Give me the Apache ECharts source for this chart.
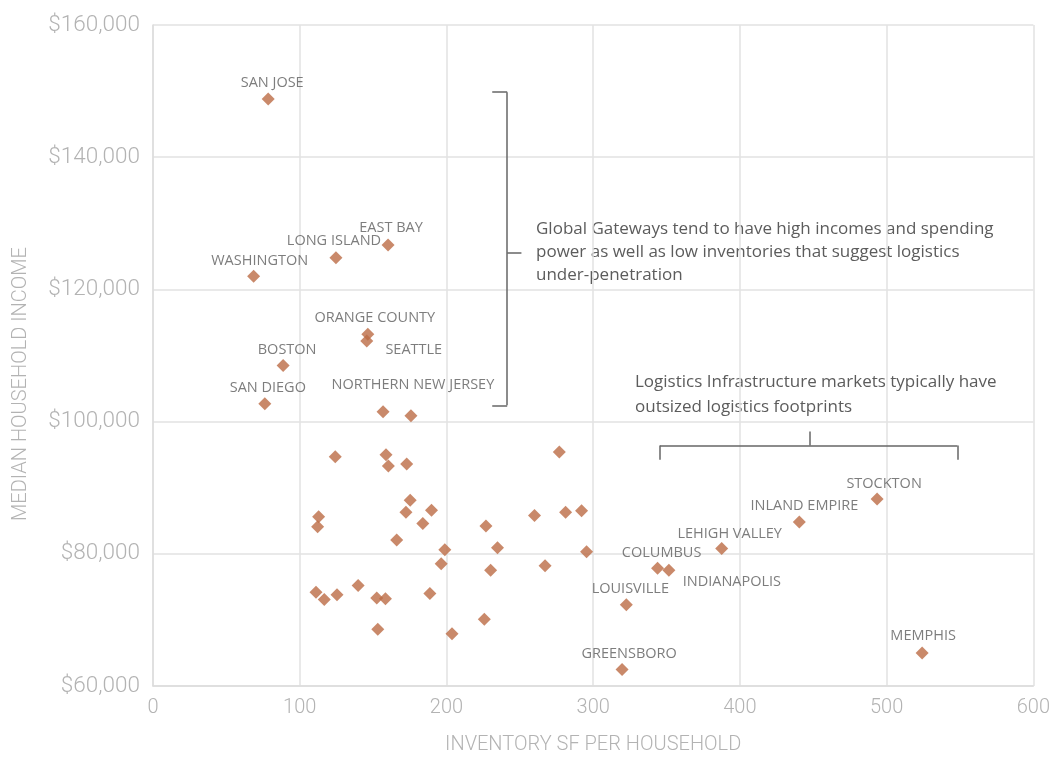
<!DOCTYPE html>
<html>
<head>
<meta charset="utf-8">
<script src="https://cdn.jsdelivr.net/npm/echarts@6/dist/echarts.min.js"></script>
<style>
  html, body { margin: 0; padding: 0; background: #ffffff; }
  #chart { width: 1053px; height: 760px; }
</style>
</head>
<body>
<div id="chart"></div>
<script>
// Named markets: inventory SF per household vs. median household income
const marketNames = [
  'SAN JOSE', 'WASHINGTON', 'LONG ISLAND', 'EAST BAY', 'ORANGE COUNTY', 'SEATTLE',
  'BOSTON', 'SAN DIEGO', 'NORTHERN NEW JERSEY', 'COLUMBUS', 'INDIANAPOLIS',
  'LOUISVILLE', 'GREENSBORO', 'LEHIGH VALLEY', 'INLAND EMPIRE', 'STOCKTON', 'MEMPHIS'
];
const marketInventory = [
  78.5, 68.6, 124.7, 160.2, 146.4, 145.7,
  88.7, 76.2, 175.8, 343.9, 351.6,
  322.6, 319.7, 387.6, 440.5, 493.5, 524.2
];
const marketIncome = [
  148800, 122000, 124800, 126700, 113200, 112200,
  108500, 102700, 100900, 77800, 77500,
  72300, 62500, 80800, 84800, 88300, 65000
];

// Remaining (unlabelled) markets
const otherInventory = [
  156.8, 124.2, 158.8, 160.4, 172.9, 175.3, 172.4, 189.8, 183.9, 112.9, 112.2,
  166.1, 198.9, 196.4, 226.9, 234.8, 230.1, 111.1, 116.7, 125.4, 139.8, 152.5,
  158.4, 188.7, 153.2, 203.8, 225.8, 276.9, 260.0, 281.2, 292.1, 295.5, 267.2
];
const otherIncome = [
  101500, 94700, 95000, 93300, 93600, 88100, 86300, 86600, 84600, 85600, 84100,
  82100, 80600, 78500, 84200, 80900, 77500, 74200, 73100, 73800, 75200, 73300,
  73200, 74000, 68600, 67900, 70100, 95400, 85800, 86300, 86500, 80300, 78200
];

// Axis ticks
const xTicks = [0, 100, 200, 300, 400, 500, 600];
const yTicks = [60000, 80000, 100000, 120000, 140000, 160000];

// Bracket outlines (data space)
const gatewayBracket = { x: 241.4, tickX: 231.2, midX: 251.1, top: 149840, bottom: 102470, mid: 125510 };
const logisticsBracket = { left: 345.5, right: 548.2, mid: 447.8, y: 96380, tickY: 94240, midY: 98520 };

// Label placement relative to each marker (pixel offsets)
const labelOffsets = {
  'SAN JOSE': [4, -16], 'WASHINGTON': [6, -15], 'LONG ISLAND': [-2, -17], 'EAST BAY': [3, -17],
  'ORANGE COUNTY': [7, -16], 'SEATTLE': [47, 9], 'BOSTON': [4, -16], 'SAN DIEGO': [3, -16],
  'NORTHERN NEW JERSEY': [2, -31], 'COLUMBUS': [4, -15], 'INDIANAPOLIS': [63, 12],
  'LOUISVILLE': [4, -16], 'GREENSBORO': [7, -16], 'LEHIGH VALLEY': [8, -15],
  'INLAND EMPIRE': [5, -16], 'STOCKTON': [7, -15], 'MEMPHIS': [1, -17]
};

const AXIS_FONT = 'Roboto, "Noto Sans", sans-serif';
const TEXT_FONT = '"Open Sans", "Noto Sans", sans-serif';
const MARK = '#BC6B45';
const INK = '#5c5c5c';
const LINE = '#666666';
const AXIS_INK = '#b3b3b3';

const namedData = marketNames.map((n, i) => ({
  name: n,
  value: [marketInventory[i], marketIncome[i]],
  label: {
    show: true,
    position: 'inside',
    offset: labelOffsets[n],
    formatter: n,
    color: INK,
    fontFamily: TEXT_FONT,
    fontSize: 14.5,
    align: 'center',
    verticalAlign: 'middle'
  }
}));
const otherData = otherInventory.map((x, i) => [x, otherIncome[i]]);

function seg(a, b) { return [{ coord: a }, { coord: b }]; }
const g = gatewayBracket, l = logisticsBracket;
const bracketLines = [
  seg([g.tickX, g.top], [g.x, g.top]),
  seg([g.x, g.top], [g.x, g.bottom]),
  seg([g.tickX, g.bottom], [g.x, g.bottom]),
  seg([g.x, g.mid], [g.midX, g.mid]),
  seg([l.left, l.y], [l.right, l.y]),
  seg([l.left, l.y], [l.left, l.tickY]),
  seg([l.right, l.y], [l.right, l.tickY]),
  seg([l.mid, l.y], [l.mid, l.midY])
];

const chart = echarts.init(document.getElementById('chart'), null, { renderer: 'canvas' });
chart.setOption({
  animation: false,
  backgroundColor: '#ffffff',
  grid: { left: 153, right: 16, top: 25, bottom: 67, containLabel: false },
  xAxis: {
    type: 'value',
    min: xTicks[0], max: xTicks[xTicks.length - 1], interval: 100,
    name: 'INVENTORY SF PER HOUSEHOLD',
    nameLocation: 'middle', nameGap: 49,
    nameTextStyle: { color: AXIS_INK, fontFamily: AXIS_FONT, fontWeight: 300, fontSize: 20 },
    axisLine: { show: true, lineStyle: { color: '#dcdcdc', width: 1.5 } },
    axisTick: { show: false },
    axisLabel: { color: AXIS_INK, fontFamily: AXIS_FONT, fontWeight: 300, fontSize: 20, margin: 12 },
    splitLine: { show: true, lineStyle: { color: '#e2e2e2', width: 1.5 } }
  },
  yAxis: {
    type: 'value',
    min: yTicks[0], max: yTicks[yTicks.length - 1], interval: 20000,
    axisLine: { show: true, lineStyle: { color: '#dcdcdc', width: 1.5 } },
    axisTick: { show: false },
    axisLabel: {
      color: AXIS_INK, fontFamily: AXIS_FONT, fontWeight: 300, fontSize: 22.5, margin: 13,
      formatter: v => '$' + v.toLocaleString('en-US')
    },
    splitLine: { show: true, lineStyle: { color: '#e2e2e2', width: 1.5 } }
  },
  graphic: [
    {
      type: 'text', x: 21, y: 384, rotation: Math.PI / 2, silent: true,
      style: {
        text: 'MEDIAN HOUSEHOLD INCOME', fill: AXIS_INK,
        font: '300 20px ' + AXIS_FONT, align: 'center', verticalAlign: 'middle'
      }
    },
    {
      type: 'text', left: 536, top: 218, silent: true,
      style: {
        text: 'Global Gateways tend to have high incomes and spending\npower as well as low inventories that suggest logistics\nunder-penetration',
        fill: INK, font: '17px ' + TEXT_FONT, lineHeight: 23
      }
    },
    {
      type: 'text', left: 635, top: 370, silent: true,
      style: {
        text: 'Logistics Infrastructure markets typically have\noutsized logistics footprints',
        fill: INK, font: '17px ' + TEXT_FONT, lineHeight: 25
      }
    }
  ],
  series: [
    {
      type: 'scatter', symbol: 'diamond', symbolSize: 13,
      itemStyle: { color: MARK },
      data: otherData, z: 3
    },
    {
      type: 'scatter', symbol: 'diamond', symbolSize: 13,
      itemStyle: { color: MARK },
      data: namedData, z: 4,
      markLine: {
        silent: true, symbol: 'none', animation: false,
        label: { show: false },
        lineStyle: { color: LINE, width: 1.5, type: 'solid' },
        data: bracketLines
      }
    }
  ]
});
</script>
</body>
</html>
